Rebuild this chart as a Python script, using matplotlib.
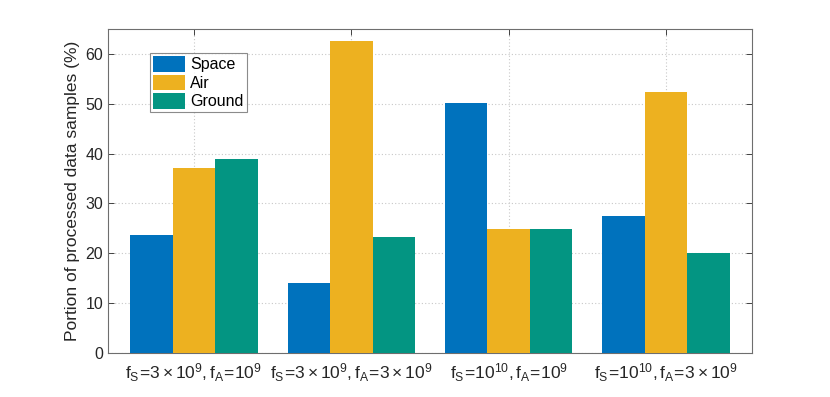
import matplotlib
matplotlib.use("Agg")
import matplotlib.pyplot as plt
import numpy as np

categories = [r"$\mathregular{f_S\!=\!3\times10^9, f_A\!=\!10^9}$",
              r"$\mathregular{f_S\!=\!3\times10^9, f_A\!=\!3\times10^9}$",
              r"$\mathregular{f_S\!=\!10^{10}, f_A\!=\!10^9}$",
              r"$\mathregular{f_S\!=\!10^{10}, f_A\!=\!3\times10^9}$"]
series_names = ["Space", "Air", "Ground"]
space = [23.6, 14.1, 50.2, 27.5]
air = [37.2, 62.6, 24.9, 52.4]
ground = [39.0, 23.2, 24.8, 20.0]
colors = ["#0072BD", "#EDB120", "#039582"]

plt.rcParams['font.family'] = ['Liberation Sans', 'DejaVu Sans']
plt.rcParams['mathtext.fontset'] = 'custom'
plt.rcParams['mathtext.rm'] = 'Liberation Sans'
plt.rcParams['mathtext.it'] = 'Liberation Sans'

fig = plt.figure(figsize=(8.3, 3.97), dpi=100)
ax = fig.add_axes([108/830, 44/397, 644/830, 324/397])

x = np.arange(1, len(categories) + 1)
w = 0.27
for i, (vals, name) in enumerate(zip([space, air, ground], series_names)):
    ax.bar(x + (i - 1) * w, vals, width=w, color=colors[i], label=name,
           edgecolor='none', zorder=3)

ax.set_xlim(0.455, 4.545)
ax.set_ylim(0, 65)
ax.set_yticks(np.arange(0, 61, 10))
ax.set_xticks(x)
ax.set_xticklabels(categories, fontsize=12.5)
ax.tick_params(axis='both', direction='in', top=True, right=True,
               labelsize=11.5, colors='#262626', length=4, width=0.6)
ax.tick_params(axis='x', pad=6, labelsize=12.5)
for t in ax.get_xticklabels() + ax.get_yticklabels():
    t.set_color('#262626')
for s in ax.spines.values():
    s.set_color('#6e6e6e')
    s.set_linewidth(0.8)
ax.grid(True, linestyle=(0, (1, 2)), color='#c8c8c8', linewidth=0.8, zorder=0)
ax.set_axisbelow(True)
ax.set_ylabel("Portion of processed data samples (%)", fontsize=12.5, color='#262626', labelpad=4)

leg = ax.legend(loc='upper left', bbox_to_anchor=(42/644, 1 - 24/324), fontsize=11.5,
                frameon=True, fancybox=False, edgecolor='#6e6e6e', borderpad=0.2,
                labelspacing=0.15, handlelength=2.0, handleheight=1.1,
                handletextpad=0.3, borderaxespad=0)
leg.get_frame().set_linewidth(0.8)

fig.savefig("out.png", dpi=100)
